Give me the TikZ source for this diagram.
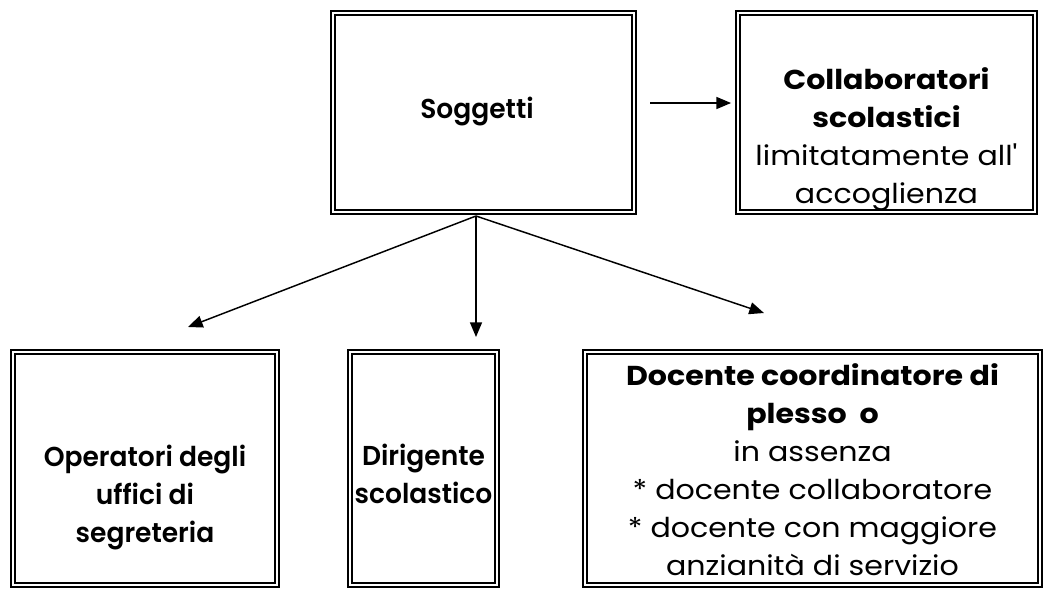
\documentclass[tikz,border=0pt]{standalone}
\usepackage{fontspec}
\setmainfont{Poppins}[Ligatures=TeXOff,FakeStretch=1.1]
\newfontfamily\medfont{Poppins SemiBold}[Ligatures=TeXOff,FakeStretch=0.97]
\usetikzlibrary{arrows.meta}

\tikzset{
  dbox/.style 2 args={draw,double,line width=1.4pt,double distance=1.7pt,
    minimum width=#1*0.75pt,minimum height=#2*0.75pt,inner sep=0pt},
  txt/.style={align=center,inner sep=0pt,font=\fontsize{20.5}{28.5}\selectfont},
  arr/.style={line width=1.1pt,-{Triangle[length=11pt,width=9pt]}},
}

\begin{document}
\begin{tikzpicture}[x=0.75pt,y=-0.75pt]
        \useasboundingbox (0,0) rectangle (1047,590);
        \node[dbox={301}{199}] (sogg) at (483.5,112.5) {};
        \node[dbox={297}{199}] (coll) at (886.5,112.5) {};
        \node[dbox={264}{233}] (oper) at (145,468.5) {};
        \node[dbox={147}{233}] (dir) at (423.5,468.5) {};
        \node[dbox={455}{233}] (doc) at (812.5,468.5) {};
        \node[txt] (soggT) at (477,112) {\medfont Soggetti};
        \node[txt] (collT) at (886.5,139) {\textbf{Collaboratori}\\\textbf{scolastici}\\limitatamente all'\\accoglienza};
        \node[txt] (operT) at (145,498) {\medfont Operatori degli\\\medfont uffici di\\\medfont segreteria};
        \node[txt] (dirT) at (423.5,474) {\medfont Dirigente\\\medfont scolastico};
        \node[txt] (docT) at (812.5,470) {\textbf{Docente coordinatore di}\\\textbf{plesso\ \ o}\\in assenza\\* docente collaboratore\\* docente con maggiore\\anzianità di servizio};
        \coordinate (hstart) at (650,103);
        \coordinate (fork) at (476,216);
        \coordinate (tipL) at (188,327);
        \coordinate (tipM) at (476,337);
        \coordinate (tipR) at (764,313);
        \draw[arr,shorten >=4.5pt] (hstart) -- (hstart -| coll.west);
        \draw[arr] (fork) -- (tipL);
        \draw[arr] (fork) -- (tipM);
        \draw[arr] (fork) -- (tipR);
\end{tikzpicture}
\end{document}
